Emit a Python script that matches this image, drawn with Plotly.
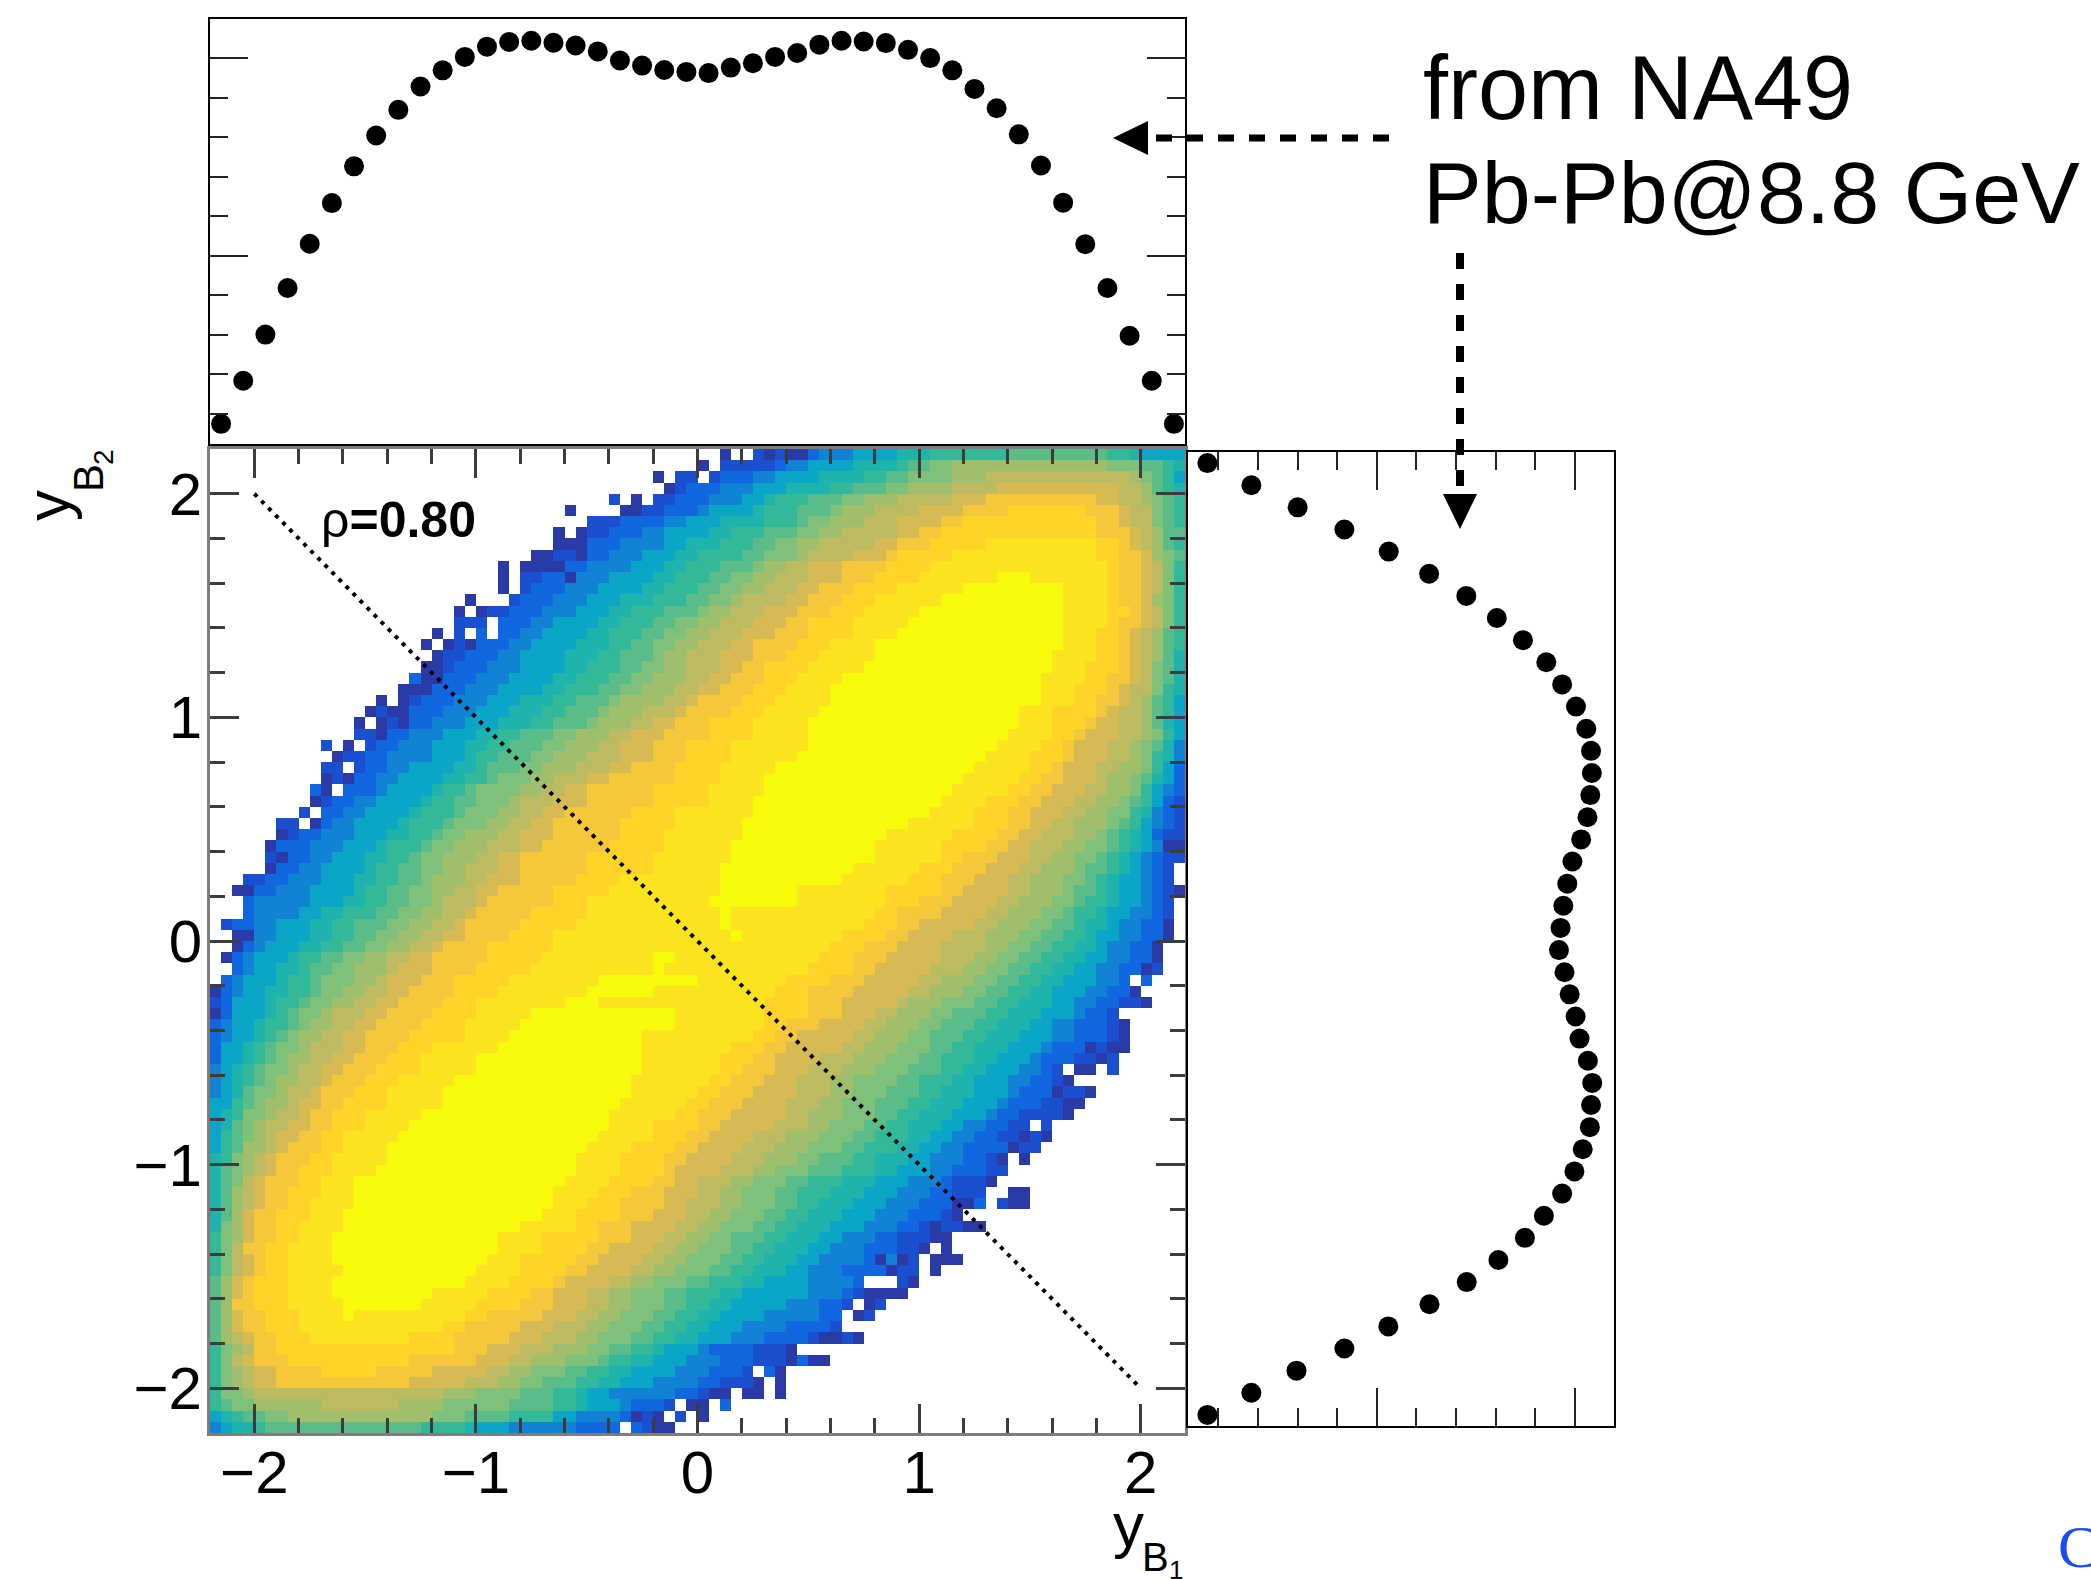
import plotly.graph_objects as go

W, H = 2091, 1579
N_BINS = 88
BIN_EDGE_LOW = -2.2
BIN_WIDTH = 0.05

# ---- marginal distributions (NA49 Pb-Pb@8.8 GeV) ----
MARGIN_RAPIDITY = [-2.15, -2.05, -1.95, -1.85, -1.75, -1.65, -1.55, -1.45, -1.35, -1.25, -1.15, -1.05, -0.95, -0.85,
                   -0.75, -0.65, -0.55, -0.45, -0.35, -0.25, -0.15, -0.05, 0.05, 0.15, 0.25, 0.35, 0.45, 0.55, 0.65,
                   0.75, 0.85, 0.95, 1.05, 1.15, 1.25, 1.35, 1.45, 1.55, 1.65, 1.75, 1.85, 1.95, 2.05, 2.15]
TOP_VALUES = [7.4, 18.3, 30.0, 41.8, 53.0, 63.3, 72.6, 80.4, 86.9, 92.8, 96.9, 100.3, 102.9, 104.1, 104.4,
              103.9, 103.2, 101.7, 99.4, 98.1, 97.0, 96.5, 96.2, 97.6, 98.7, 100.3, 101.3, 103.4, 104.4,
              104.2, 103.8, 102.1, 100.0, 96.9, 92.2, 87.3, 80.7, 72.8, 63.4, 52.9, 41.8, 29.7, 18.3, 7.4]
RIGHT_VALUES = [7.2, 18.3, 30.0, 41.8, 53.0, 63.2, 72.6, 80.3, 86.9, 92.8, 96.8, 100.3, 102.9, 104.1, 104.3,
                103.9, 103.2, 101.6, 99.4, 98.1, 97.1, 96.4, 96.0, 97.4, 98.7, 100.2, 101.2, 103.3, 104.4,
                104.1, 103.8, 102.0, 99.9, 96.8, 92.2, 87.4, 80.7, 72.7, 63.3, 52.9, 41.8, 29.7, 18.3, 7.2]
RIGHT_RAPIDITY = MARGIN_RAPIDITY[::-1]
DIAG_X = [-2, 2]
DIAG_Y = [2, -2]

# ---- colour levels of the 2D histogram, read by eye ----
LEVEL_COLORS = ["#2a3aa6", "#1a4fcf", "#1067e0", "#1282d4", "#0ba5c8", "#1fb3ae", "#34b89a", "#5abc88",
                "#7fc07a", "#a0bf6c", "#bdbb62", "#d8ba54", "#f5c73a", "#ffd327", "#fbe41f", "#f8fa0c"]

# first column of each level on the rising (upper-left) side, per row from the top
# columns: levels 2,3,4,5,6,7,8,9,10,11
RISE = [
 [54,55,58,62,65,72,99,99,99,99],[51,52,54,58,62,63,65,67,99,99],[46,49,51,55,59,61,63,67,70,99],
 [43,46,49,52,56,58,61,63,67,71],[42,45,48,50,51,54,57,59,62,67],[41,44,45,49,50,53,56,57,60,64],
 [37,41,43,46,50,53,54,56,59,62],[36,39,41,45,47,50,53,55,57,62],[34,37,41,43,46,49,51,53,55,60],
 [33,36,39,42,44,48,50,53,54,58],[32,34,38,41,43,46,49,50,52,54],[30,33,36,40,42,45,47,49,51,54],
 [29,32,35,39,41,44,46,48,50,53],[28,31,34,37,40,43,45,47,48,52],[27,30,33,36,38,41,44,45,47,50],
 [26,29,31,35,37,40,42,44,46,49],[24,28,30,34,36,39,41,43,45,48],[24,27,29,33,36,38,40,42,44,47],
 [23,26,28,32,35,37,40,41,43,46],[22,25,28,32,34,37,39,41,43,46],[21,24,27,31,33,36,38,40,43,45],
 [20,23,26,30,32,35,37,39,42,44],[19,22,25,28,31,33,36,37,41,43],[18,21,24,27,30,32,35,36,39,42],
 [17,20,23,26,29,31,34,35,38,40],[16,18,21,24,26,28,31,33,36,38],[15,17,20,23,25,27,30,32,35,37],
 [14,16,20,23,24,26,29,31,34,37],[14,16,18,22,24,25,28,30,33,36],[13,15,17,21,23,25,26,29,31,34],
 [12,15,16,20,21,23,24,28,30,32],[11,13,15,19,20,22,24,27,28,31],[10,12,14,18,19,22,23,26,28,30],
 [9,11,13,17,18,21,22,25,27,29],[8,10,13,16,18,20,21,23,26,28],[6,9,12,15,16,19,20,22,25,28],
 [7,9,11,14,16,18,19,21,24,26],[6,8,10,14,15,17,19,21,23,26],[5,7,10,13,15,17,19,20,23,25],
 [4,6,9,13,14,16,18,20,22,24],[3,4,9,12,14,16,18,20,21,24],[3,4,8,10,12,15,17,19,21,23],
 [2,4,6,9,11,13,16,18,20,22],[3,4,6,9,11,13,15,17,19,21],[3,4,5,8,10,12,14,16,18,20],
 [2,3,4,7,8,10,12,14,16,18],[2,3,4,6,8,9,11,13,16,17],[1,2,3,6,7,9,10,13,15,16],
 [1,2,3,5,7,9,10,12,14,16],[1,2,2,5,6,8,9,11,13,15],[1,2,2,5,6,7,8,10,11,14],
 [1,1,2,4,5,7,8,9,11,13],[0,1,2,4,5,6,7,8,10,12],[0,1,1,3,4,5,6,8,9,12],
 [0,1,1,3,4,5,6,7,9,11],[0,0,1,2,3,4,5,7,8,10],[0,0,1,2,3,4,5,6,8,10],
 [0,0,1,2,3,3,4,6,7,9],[0,0,0,2,2,3,4,5,7,8],[0,0,0,1,2,3,3,5,6,8],
 [0,0,0,1,2,2,3,4,5,7],[0,0,0,1,1,2,3,4,5,6],[0,0,0,1,1,2,3,3,5,6],
 [0,0,0,0,1,2,2,3,4,5],[0,0,0,0,1,1,2,3,4,5],[0,0,0,0,1,1,2,3,3,4],
 [0,0,0,0,1,1,2,2,3,4],[0,0,0,0,1,1,2,2,3,4],[0,0,0,0,1,1,2,2,3,3],
 [0,0,0,0,1,1,1,2,3,3],[0,0,0,0,0,1,1,2,3,3],[0,0,0,0,0,1,1,2,2,3],
 [0,0,0,0,0,1,1,2,2,3],[0,0,0,0,0,1,1,2,2,3],[0,0,0,0,0,0,1,1,2,2],
 [0,0,0,0,0,0,1,1,2,2],[0,0,0,0,0,0,1,1,2,2],[0,0,0,0,0,0,1,1,2,2],
 [0,0,0,0,0,0,1,1,2,2],[0,0,0,0,0,0,1,1,2,3],[0,0,0,0,0,1,1,2,3,4],
 [0,0,0,0,0,1,1,2,2,3],[0,0,0,0,0,1,1,2,3,4],[0,0,0,0,0,1,1,2,3,4],
 [0,0,0,0,0,1,1,3,4,99],[0,0,0,0,0,1,2,4,10,99],[0,0,0,1,2,3,5,7,99,99],
 [0,0,1,2,4,5,99,99,99,99],
]
# column where each level ends on the falling (lower-right) side, per row
# columns: levels 11,10,9,8,7,6,5,4,3,2
FALL = [
 [0,0,0,0,81,83,84,88,88,88],[0,0,81,84,86,87,88,88,88,88],[0,83,84,85,86,87,87,88,88,88],
 [82,84,85,85,86,87,88,88,88,88],[82,84,85,86,87,88,88,88,88,88],[83,85,85,86,87,88,88,88,88,88],
 [83,85,85,86,87,88,88,88,88,88],[84,85,86,86,88,88,88,88,88,88],[84,85,86,86,87,88,88,88,88,88],
 [85,85,86,87,88,88,88,88,88,88],[85,86,86,87,87,88,88,88,88,88],[85,86,86,87,87,88,88,88,88,88],
 [85,86,86,87,87,88,88,88,88,88],[85,85,86,87,87,88,88,88,88,88],[85,86,86,87,87,88,88,88,88,88],
 [85,86,86,87,87,88,88,88,88,88],[84,85,86,86,87,88,88,88,88,88],[84,85,86,86,87,88,88,88,88,88],
 [84,85,86,86,87,87,88,88,88,88],[84,85,85,86,87,87,88,88,88,88],[84,85,85,86,87,87,88,88,88,88],
 [83,85,85,86,86,87,88,88,88,88],[83,84,85,85,86,87,87,88,88,88],[82,84,85,85,86,87,87,88,88,88],
 [82,84,85,85,86,86,87,88,88,88],[82,84,85,86,86,87,87,88,88,88],[81,83,84,85,86,86,87,87,88,88],
 [81,83,84,85,85,86,87,87,88,88],[80,82,84,85,85,86,86,87,87,88],[80,81,83,84,85,85,86,87,87,88],
 [79,81,83,84,84,85,85,86,87,88],[78,80,82,83,84,85,85,86,86,87],[77,79,81,83,83,84,85,85,86,87],
 [76,78,81,82,83,84,84,85,86,87],[75,78,80,81,82,83,84,85,85,86],[74,77,79,81,82,83,84,85,86,86],
 [74,76,78,80,81,82,83,84,85,86],[73,75,78,79,81,82,83,84,85,86],[72,74,77,79,80,81,82,84,85,86],
 [72,74,77,78,80,81,82,84,85,86],[71,73,76,78,79,81,82,84,85,86],[70,72,75,77,78,80,81,83,85,86],
 [69,71,74,76,78,79,81,82,84,86],[67,70,73,75,77,79,80,82,84,86],[66,70,72,74,76,78,80,81,83,85],
 [66,69,71,73,75,77,79,81,83,85],[65,68,70,72,74,76,78,80,82,84],[64,66,69,71,73,75,77,80,82,83],
 [63,65,68,70,72,74,76,79,81,83],[62,63,66,69,71,73,76,78,80,82],[60,62,65,67,70,72,75,78,79,81],
 [59,61,64,66,69,71,74,76,78,81],[58,60,63,65,68,70,73,76,78,81],[57,59,62,65,67,69,72,75,76,79],
 [55,58,61,64,66,69,71,74,75,78],[54,57,60,63,66,68,70,73,75,76],[53,56,58,62,64,67,69,72,74,76],
 [53,56,58,61,64,66,69,72,73,76],[52,55,57,60,63,65,68,71,72,75],[52,54,57,60,62,64,67,70,71,73],
 [51,54,56,59,61,63,66,68,70,72],[49,52,55,58,60,63,65,67,69,71],[48,51,54,57,59,62,64,66,68,72],
 [47,50,53,55,58,60,63,65,68,70],[46,49,51,54,57,60,62,65,67,70],[44,47,49,52,54,57,60,63,66,67],
 [44,46,48,51,53,56,59,62,65,67],[43,46,48,51,53,55,58,61,64,68],[43,45,47,50,52,54,57,60,63,66],
 [42,44,46,49,51,53,56,59,62,64],[41,43,45,47,50,52,55,57,60,62],[40,42,44,47,49,51,54,56,59,62],
 [39,41,43,46,48,50,53,55,59,60],[38,40,42,45,47,49,52,54,57,60],[36,38,40,43,45,48,50,54,58,60],
 [34,36,38,41,43,46,48,54,57,58],[34,36,38,41,43,45,47,52,55,57],[33,35,37,40,42,44,46,50,55,57],
 [31,34,36,39,41,43,45,48,52,56],[30,33,35,38,40,42,44,47,50,54],[28,31,34,36,38,40,41,44,45,49],
 [27,29,32,35,36,38,40,43,46,49],[25,27,29,32,34,36,38,42,45,48],[23,26,28,30,33,35,37,40,44,46],
 [0,21,24,28,31,33,34,36,42,44],[0,17,21,27,31,33,34,37,38,41],[0,0,20,23,27,31,31,33,37,38],
 [0,0,0,0,19,23,24,27,33,37],
]
GOLD_RISE = [99]*4 + [70,68,66,64,62,61,57,57,55,54,53,52,51,49,49,48,47,46,44,43,42,41,40,40,38,36,34,34,32,31,31,30,28,28,28,26,25,24,23,23,21,20,20,19,18,17,16,15,14,14,13,12,11,10,10,9,9,8,7,6,6,5,5,5,4,4,4,3,4,4,3,3,2,3,3,4,4,4,6,6] + [99]*4
GOLD_FALL = [0]*4 + [80,82,82,83,83,84,84,84,84,84,84,84,83,83,83,83,83,82,82,81,80,79,78,78,77,77,76,75,74,74,73,72,71,70,69,68,67,66,64,63,62,61,60,59,58,57,57,55,53,52,51,51,50,49,48,47,46,45,44,43,42,42,41,41,40,38,38,36,35,34,32,31,31,30,28,27,25,24,20,18] + [0]*4
ORANGE_RISE = [99]*5 + [72,68,66,65,62,61,60,58,57,56,54,54,53,52,50,50,49,48,47,45,45,43,43,42,42,40,40,38,37,37,36,34,34,33,31,31,29,28,27,25,25,24,22,22,21,20,19,18,17,16,15,14,13,12,11,11,10,10,9,8,8,7,7,6,6,6,5,5,5,4,4,4,5,5,6,6,7,10] + [99]*5
ORANGE_FALL = [0]*5 + [79,80,80,82,82,82,82,82,82,83,82,82,82,82,82,81,81,80,80,79,78,77,77,76,75,74,73,72,72,71,70,68,67,66,66,64,62,62,61,59,58,58,56,54,54,54,52,51,50,49,48,47,46,45,44,44,43,42,41,41,40,38,37,37,35,35,34,33,32,31,29,28,25,23,22,22,18,15] + [0]*5
SHOULDER_RISE = [99]*8 + [70,67,65,64,62,60,59,58,58,56,55,54,53,52,51,50,49,49,47,47,46,46,45,45,42,42,41,41,40,40,37,36,34,34,33,31,31,30,29,27,26,24,24,23,23,20,19,19,17,16,16,14,14,12,12,11,11,10,10,9,9,8,8,7,7,7,7,7,7,8,8,9] + [99]*8
SHOULDER_FALL = [0]*8 + [80,80,81,81,81,81,81,81,80,80,80,79,79,78,78,76,76,76,75,74,74,73,72,70,69,69,67,66,66,64,63,61,61,60,59,57,56,55,54,52,51,50,50,50,49,47,46,46,45,44,43,42,40,40,38,37,37,36,35,34,33,33,30,30,28,28,27,25,24,23,21,18] + [0]*8
# brightest yellow core, row -> (first col, end col)
CORE = {11:(71,74),12:(68,77),13:(66,77),14:(64,77),15:(63,77),16:(62,77),17:(60,77),18:(60,76),19:(59,76),
        20:(57,75),21:(56,75),22:(56,75),23:(55,73),24:(54,73),25:(54,72),26:(54,71),27:(53,70),28:(51,69),
        29:(50,68),30:(50,67),31:(49,66),32:(49,65),33:(48,63),34:(48,61),35:(47,60),36:(47,60),37:(46,58),
        38:(46,57),39:(46,53),40:(45,53),41:(46,47),42:(46,47),43:(47,48),45:(40,42),46:(40,41),47:(35,44),
        48:(34,40),49:(32,35),50:(29,42),51:(28,42),52:(27,39),53:(26,39),54:(24,39),55:(24,39),56:(22,38),
        57:(21,38),58:(21,37),59:(19,36),60:(18,36),61:(17,35),62:(16,34),63:(16,33),64:(15,33),65:(13,32),
        66:(13,31),67:(13,31),68:(12,30),69:(12,28),70:(11,26),71:(11,26),72:(11,25),73:(12,24),74:(11,23),
        75:(11,20),76:(12,19),77:(12,13)}
# filled extent of every row
FILL_START = [46,44,40,41,36,32,34,31,31,29,26,26,26,23,22,22,20,19,20,19,18,17,15,14,13,13,10,11,10,10,9,9,8,6,6,5,5,5,3,2,3,3,1,2,2,1,2,1] + [0]*40
FILL_END = [88]*37 + [87,87,88,87,87,87,87,86,86,86,85,84,85,82,83,83,83,82,82,78,80,79,78,76,76,75,74,72,71,74,74,68,70,67,67,68,66,64,63,61,60,57,59,53,56,52,52,52,47,45,42]
# single cells on the noisy fringe: row -> (first col, end col, level); level None = empty bin
X = None
FRINGE = {
 0:[(46,47,0),(47,49,X),(49,50,1),(50,51,0),(51,52,1),(52,54,0)],
 1:[(44,45,0),(45,46,X),(46,50,1)],
 2:[(40,41,0),(41,42,X),(42,44,1),(44,45,X)],
 3:[(41,42,0)],
 4:[(36,37,1),(37,38,X),(38,39,0),(39,40,X),(40,41,1)],
 5:[(32,33,0),(33,37,X),(37,39,0)],
 7:[(31,32,0),(32,33,X),(33,34,0)],
 8:[(31,34,0)],
 9:[(29,31,0),(33,34,0)],
 10:[(26,27,0),(27,28,X),(28,32,0)],
 11:[(26,27,0),(27,28,X),(32,33,0)],
 12:[(26,27,0),(27,28,X)],
 13:[(23,24,0),(24,27,X)],
 14:[(22,23,0),(23,24,X),(24,25,0)],
 15:[(25,26,X)],
 16:[(20,21,0),(21,22,X),(23,24,X),(25,26,X)],
 17:[(19,20,0),(20,21,X),(21,22,0),(23,24,0)],
 18:[(20,21,0)],
 19:[(19,21,0)],
 20:[(18,19,2),(19,21,0)],
 21:[(17,20,0)],
 22:[(15,16,0),(16,17,X),(17,18,0)],
 23:[(14,15,0),(16,18,0)],
 24:[(13,14,0),(14,15,X),(15,16,0),(17,18,0)],
 25:[(15,16,0)],
 26:[(11,12,X),(12,13,0),(13,14,X)],
 27:[(11,12,0)],
 28:[(12,13,X)],
 29:[(10,11,0),(12,13,0)],
 30:[(9,10,2),(10,11,0),(11,12,X)],
 31:[(9,10,0)],
 32:[(9,10,X)],
 33:[(8,9,X),(9,10,0)],
 34:[(6,7,0)],
 35:[(5,6,0),(86,88,0)],
 36:[(6,7,0)],
 37:[(5,6,0)],
 39:[(2,4,0),(87,88,0)],
 42:[(86,87,0)],
 43:[(2,4,0),(86,87,0)],
 44:[(2,3,0),(85,86,0)],
 45:[(1,2,0),(85,86,0)],
 46:[(84,85,0)],
 47:[(83,84,X),(84,85,2)],
 48:[(0,1,0),(83,84,0)],
 49:[(0,1,1),(84,85,0)],
 50:[(0,1,0)],
 51:[(0,1,2),(82,83,0)],
 52:[(82,83,0)],
 53:[(79,80,0),(81,83,0)],
 54:[(80,81,0)],
 55:[(77,78,X),(78,80,0),(80,81,X)],
 56:[(77,78,0)],
 57:[(76,77,0),(79,80,0)],
 58:[(77,79,0)],
 59:[(77,78,0)],
 60:[(74,75,X)],
 61:[(73,74,0),(75,76,0)],
 62:[(72,73,0)],
 63:[(71,72,0),(72,73,X),(73,74,0)],
 65:[(70,71,0)],
 66:[(68,70,1),(70,72,X),(72,74,0)],
 67:[(67,69,0),(69,70,2),(70,71,X),(71,72,1),(72,74,0)],
 68:[(67,68,0)],
 69:[(65,66,0),(68,70,0)],
 70:[(65,67,0)],
 71:[(64,65,0),(65,66,X),(66,67,0)],
 72:[(60,61,0),(61,62,3),(62,63,0),(64,65,X),(65,68,0)],
 73:[(60,61,2),(61,62,0),(64,65,X),(65,66,0)],
 74:[(59,62,X),(63,64,0)],
 75:[(59,63,0)],
 76:[(58,59,X),(59,60,0)],
 77:[(57,58,X),(58,59,0)],
 79:[(55,57,0),(58,59,0)],
 80:[(52,53,0)],
 81:[(52,53,0),(53,54,2),(54,56,0)],
 82:[(49,50,X),(50,51,2),(51,52,0)],
 83:[(49,50,0),(50,51,X),(51,52,0)],
 84:[(45,47,0),(47,48,X),(48,50,0),(50,51,X),(51,52,0)],
 85:[(42,43,X),(43,45,0),(45,46,X),(46,47,2)],
 86:[(38,39,0),(40,41,0),(41,42,X),(42,43,1),(43,44,X),(44,45,0)],
 87:[(37,38,X),(38,39,2),(40,42,0)],
}

# assemble the histogram from the rows read above
grid = []
for r in range(N_BINS):
    row = [None] * N_BINS
    for c in range(FILL_START[r], FILL_END[r]):
        lvl = 1
        for k, L in enumerate(range(2, 12)):
            if RISE[r][k] <= c < FALL[r][9 - k]:
                lvl = L
        if GOLD_RISE[r] <= c < GOLD_FALL[r]:
            lvl = 12
        if ORANGE_RISE[r] <= c < ORANGE_FALL[r]:
            lvl = 13
        if SHOULDER_RISE[r] <= c < SHOULDER_FALL[r]:
            lvl = 14
        if r in CORE and CORE[r][0] <= c < CORE[r][1]:
            lvl = 15
        row[c] = lvl
    for c0, c1, lvl in FRINGE.get(r, []):
        for c in range(c0, c1):
            row[c] = lvl
    grid.append(row)

xc = [BIN_EDGE_LOW + BIN_WIDTH * (i + 0.5) for i in range(N_BINS)]
yc = [-BIN_EDGE_LOW - BIN_WIDTH * (i + 0.5) for i in range(N_BINS)]
cs = [[i / 15, col] for i, col in enumerate(LEVEL_COLORS)]

def fx(p):
    return p / W

def fy(p):
    return 1 - p / H

fig = go.Figure()
fig.add_trace(go.Heatmap(x=xc, y=yc, z=grid, zmin=0, zmax=15, colorscale=cs, showscale=False,
                         zsmooth=False, xaxis="x", yaxis="y", hoverinfo="skip"))
fig.add_trace(go.Scatter(x=DIAG_X, y=DIAG_Y, mode="lines", line=dict(color="black", width=4, dash="4px,6px"),
                         xaxis="x", yaxis="y", hoverinfo="skip"))
fig.add_trace(go.Scatter(x=MARGIN_RAPIDITY, y=TOP_VALUES, mode="markers", marker=dict(color="black", size=20),
                         xaxis="x2", yaxis="y2", cliponaxis=False))
fig.add_trace(go.Scatter(x=RIGHT_VALUES, y=RIGHT_RAPIDITY, mode="markers", marker=dict(color="black", size=20),
                         xaxis="x3", yaxis="y3", cliponaxis=False))

FONT = "Liberation Sans"
GRAY = "#7d7d7d"
TICK = "#3c3c3c"
main_common = dict(range=[-2.2, 2.2], tickmode="linear", tick0=0, dtick=1, ticks="inside", ticklen=29, tickwidth=2.5,
                   tickcolor=TICK, showline=True, linecolor=GRAY, linewidth=3, mirror="ticks", showgrid=False,
                   zeroline=False, tickfont=dict(family=FONT, size=60, color="black"),
                   minor=dict(dtick=0.2, tick0=0, ticks="inside", ticklen=15, tickwidth=2.5, tickcolor=TICK, showgrid=False))
side_common = dict(showline=True, linecolor="black", linewidth=2, mirror=True, showgrid=False, zeroline=False)
marg_ticks = dict(range=[2.3, 109.9], tickmode="linear", tick0=0, dtick=50, ticks="inside", ticklen=38, tickwidth=2,
                  tickcolor="#222222", showticklabels=False, mirror="ticks", showline=True, linecolor="black", linewidth=2,
                  showgrid=False, zeroline=False,
                  minor=dict(dtick=10, tick0=0, ticks="inside", ticklen=18, tickwidth=2, tickcolor="#222222", showgrid=False))

fig.update_layout(
    width=W, height=H, autosize=False, margin=dict(l=0, r=0, t=0, b=0), paper_bgcolor="white", plot_bgcolor="white",
    showlegend=False,
    xaxis=dict(domain=[fx(210), fx(1185)], anchor="y", ticklabelstandoff=-15, **main_common),
    yaxis=dict(domain=[fy(1433), fy(449)], anchor="x", ticklabelstandoff=-7, **main_common),
    xaxis2=dict(domain=[fx(210), fx(1185)], anchor="y2", range=[-2.2, 2.2], showticklabels=False, ticks="", **side_common),
    yaxis2=dict(domain=[fy(444), fy(19)], anchor="x2", **marg_ticks),
    xaxis3=dict(domain=[fx(1188), fx(1614)], anchor="y3", **marg_ticks),
    yaxis3=dict(domain=[fy(1426), fy(452)], anchor="x3", range=[-2.2, 2.2], showticklabels=False, ticks="", **side_common),
)

def text(s, x, y, size, color="black", family=FONT, angle=0, xanchor="left"):
    fig.add_annotation(text=s, x=fx(x), y=fy(y), xref="paper", yref="paper", showarrow=False,
                       xanchor=xanchor, yanchor="middle", textangle=angle, font=dict(family=family, size=size, color=color))

text("ρ<b>=0.80</b>", 319, 520, 50)
text("from NA49", 1421, 88, 90)
text("Pb-Pb@8.8 GeV", 1421, 193, 88)
text("C", 2056, 1547, 60, color="#1a4cf0", family="Liberation Serif")
text("y", 1128, 1524, 62, xanchor="center")
text("B", 1155, 1557, 40, xanchor="center")
text("1", 1176, 1570, 26, xanchor="center")
text("y", 47, 506, 62, angle=-90, xanchor="center")
text("B", 88, 478, 42, angle=-90, xanchor="center")
text("2", 104, 457, 28, angle=-90, xanchor="center")

DASH = "16px,15px"
fig.add_shape(type="line", xref="paper", yref="paper", x0=fx(1389), y0=fy(138), x1=fx(1148), y1=fy(138),
              line=dict(color="black", width=7, dash=DASH))
fig.add_shape(type="line", xref="paper", yref="paper", x0=fx(1460), y0=fy(253), x1=fx(1460), y1=fy(494),
              line=dict(color="black", width=8, dash=DASH))
fig.add_shape(type="path", xref="paper", yref="paper", fillcolor="black", line=dict(width=0),
              path=f"M {fx(1113)} {fy(138)} L {fx(1148)} {fy(121)} L {fx(1148)} {fy(155)} Z")
fig.add_shape(type="path", xref="paper", yref="paper", fillcolor="black", line=dict(width=0),
              path=f"M {fx(1460)} {fy(529)} L {fx(1443)} {fy(494)} L {fx(1477)} {fy(494)} Z")

fig.write_html("out.html", config={"displayModeBar": False}, post_script="document.body.style.margin='0';")
